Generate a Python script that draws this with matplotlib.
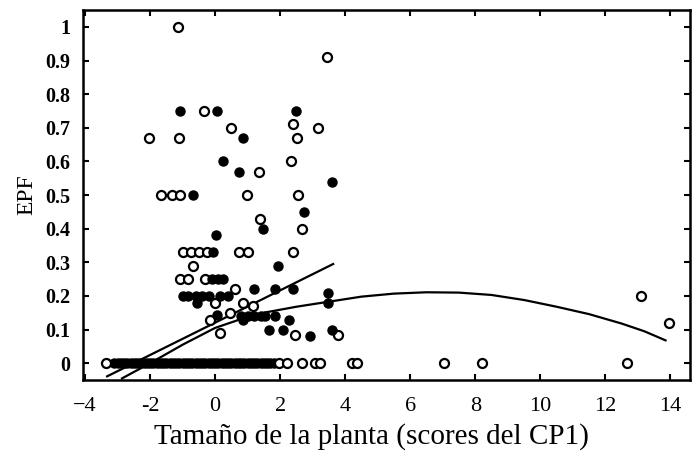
import numpy as np
import matplotlib
matplotlib.use('Agg')
import matplotlib.pyplot as plt

plt.rcParams['font.family'] = ['Liberation Serif', 'DejaVu Serif']

# puntos abiertos (x = scores CP1, y = EPF)
open_x = [-1.14, 3.45, -0.34, 0.5, 2.4, 3.17, -2.03, -1.11, 2.52, 2.34, 1.36,
          -1.66, -1.32, -1.08, 0.98, 2.56, 1.38, 2.68,
          -1.0, -0.75, -0.5, -0.25, 0.72, 1.02, 2.4, -0.67, -1.08, -0.83, -0.3,
          0.62, 0.0, 0.87, 1.18, -0.15, 0.46, 2.46, 0.15, 3.78, 13.1, 13.97]
open_y = [1.0, 0.91, 0.75, 0.70, 0.71, 0.70, 0.67, 0.67, 0.67, 0.60, 0.57,
          0.5, 0.5, 0.5, 0.5, 0.5, 0.43, 0.40,
          0.33, 0.33, 0.33, 0.33, 0.33, 0.33, 0.33, 0.29, 0.25, 0.25, 0.25,
          0.22, 0.18, 0.18, 0.17, 0.13, 0.15, 0.085, 0.09, 0.085, 0.2, 0.12]

# puntos rellenos
fill_x = [-1.08, 0.06, 2.49, 0.87, 0.24, 0.73, 3.6, -0.68, 2.74, 1.48, 0.03,
          -0.05, 1.93, -0.1, 0.1, 0.25, -0.98, -0.83, -0.6, -0.4, -0.2, 0.15, 0.4,
          1.2, 1.85, 2.4, 3.48, 3.48, -0.55, 0.05, 0.8, 1.0, 1.2, 1.4, 1.55,
          0.87, 1.85, 2.28, 1.66, 2.1, 2.92, 3.6]
fill_y = [0.75, 0.75, 0.75, 0.67, 0.6, 0.57, 0.54, 0.5, 0.45, 0.40, 0.38,
          0.33, 0.29, 0.25, 0.25, 0.25, 0.2, 0.2, 0.2, 0.2, 0.2, 0.2, 0.2,
          0.22, 0.22, 0.22, 0.21, 0.18, 0.18, 0.143, 0.14, 0.14, 0.14, 0.14, 0.14,
          0.13, 0.14, 0.13, 0.1, 0.1, 0.08, 0.1]

# fila de ceros
zero_fill_x = [-3.1, -3.0, -2.9, -2.8, -2.7, -2.6, -2.5, -2.4, -2.3, -2.2, -2.1,
               -2.0, -1.9, -1.8, -1.7, -1.6, -1.5, -1.4, -1.3, -1.2, -1.1, -1.0,
               -0.9, -0.8, -0.7, -0.6, -0.5, -0.4, -0.3, -0.2, -0.1, 0.0, 0.1,
               0.2, 0.3, 0.4, 0.5, 0.6, 0.7, 0.8, 0.9, 1.0, 1.1, 1.2, 1.3, 1.4,
               1.5, 1.6, 1.7, 1.8]
zero_open_x = [-3.35, 1.95, 2.2, 2.68, 3.08, 3.23, 4.2, 4.35, 7.05, 8.2, 12.65]

# recta ajustada
line_x = [-3.32, 3.63]
line_y = [-0.039, 0.295]

# curva cuadratica ajustada
curve_x = [-2.86, -2.0, -1.0, 0.0, 1.0, 1.6, 2.5, 3.5, 4.5, 5.5, 6.5, 7.5,
           8.5, 9.5, 10.5, 11.5, 12.5, 13.2, 13.85]
curve_y = [-0.045, 0.0, 0.055, 0.105, 0.138, 0.152, 0.168, 0.183, 0.198, 0.207,
           0.211, 0.210, 0.203, 0.188, 0.168, 0.146, 0.118, 0.095, 0.068]

fig = plt.figure(figsize=(6.92, 4.59), dpi=100)
ax = fig.add_axes([0.12, 0.172, 0.877, 0.806])

ax.plot(line_x, line_y, color='black', lw=1.6)
ax.plot(curve_x, curve_y, color='black', lw=1.6)

ax.plot(zero_fill_x, [0] * len(zero_fill_x), 'o', ms=6.5, color='black', mec='black')
ax.plot(zero_open_x, [0] * len(zero_open_x), 'o', ms=6.5, mfc='white', mec='black', mew=1.6)
ax.plot(open_x, open_y, 'o', ms=6.5, mfc='white', mec='black', mew=1.6)
ax.plot(fill_x, fill_y, 'o', ms=6.5, color='black', mec='black')

ax.set_xlim(-4.06, 14.6)
ax.set_ylim(-0.05, 1.05)
ax.set_xticks(np.arange(-4, 15, 2))
ax.set_xticklabels(['\u22124', '-2', '0', '2', '4', '6', '8', '10', '12', '14'])
yt = [0, 0.1, 0.2, 0.3, 0.4, 0.5, 0.6, 0.7, 0.8, 0.9, 1]
ax.set_yticks(yt)
ax.set_yticklabels(['0', '0.1', '0.2', '0.3', '0.4', '0.5', '0.6', '0.7', '0.8', '0.9', '1'],
                   fontweight='bold')
ax.tick_params(direction='in', top=True, right=True, length=4, width=1.5)
ax.tick_params(axis='x', labelsize=16, pad=12)
ax.tick_params(axis='y', labelsize=14.5, pad=9)
for s in ax.spines.values():
    s.set_linewidth(1.8)

ax.set_xlabel('Tamaño de la planta (scores del CP1)', fontsize=21)
ax.xaxis.set_label_coords(0.476, -0.115)
ax.set_ylabel('EPF', fontsize=17, labelpad=6)

plt.savefig('out.png', dpi=100)
